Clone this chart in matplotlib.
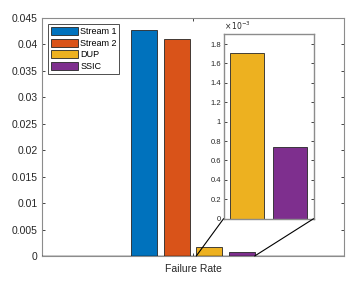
import matplotlib
matplotlib.use("Agg")
import matplotlib.pyplot as plt
from matplotlib.patches import ConnectionPatch
from matplotlib.ticker import FuncFormatter, MultipleLocator

plt.rcParams['font.family'] = ['Liberation Sans', 'DejaVu Sans']

# data
series = ['Stream 1', 'Stream 2', 'DUP', 'SSIC']
values = [0.0427, 0.0410, 0.00171, 0.000735]
colors = ['#0072BD', '#D95319', '#EDB120', '#7E2F8E']
category = 'Failure Rate'

zoom_series = ['DUP', 'SSIC']
zoom_values = [0.00171, 0.000735]
zoom_colors = ['#EDB120', '#7E2F8E']

frame = '#262626'

fig = plt.figure(figsize=(3.6, 2.85), dpi=100)
ax = fig.add_axes([0.1167, 0.1018, 0.839, 0.835])

spacing = 0.215
width = 0.172
for i, (name, v, c) in enumerate(zip(series, values, colors)):
    ax.bar(1 + (i - 1.5) * spacing, v, width, color=c, edgecolor=frame,
           linewidth=0.6, label=name, zorder=2)
ax.axhline(0, color='black', linewidth=1.0, zorder=3)

ax.set_xlim(0, 2)
ax.set_ylim(0, 0.045)
ax.set_xticks([1])
ax.set_xticklabels([category])
ax.yaxis.set_major_locator(MultipleLocator(0.005))
ax.yaxis.set_major_formatter(FuncFormatter(lambda v, p: '%g' % round(v, 4)))
ax.tick_params(direction='in', length=2.5, width=0.6, labelsize=7.5,
               colors=frame, top=True, right=True, pad=3)
ax.tick_params(axis='x', pad=6)
for s in ax.spines.values():
    s.set_color('0.55')
    s.set_linewidth(0.8)

leg = ax.legend(loc='upper left', bbox_to_anchor=(0.02, 0.975),
                borderaxespad=0, fontsize=6.5, fancybox=False, framealpha=1,
                edgecolor='0.3', handlelength=3.0, handleheight=1.0,
                labelspacing=0.3, handletextpad=0.25, borderpad=0.3)
leg.get_frame().set_linewidth(0.7)

# zoomed inset
ins = fig.add_axes([0.621, 0.2326, 0.25, 0.647])
for i, (v, c) in enumerate(zip(zoom_values, zoom_colors)):
    ins.bar(i + 1, v, 0.8, color=c, edgecolor=frame, linewidth=0.6, zorder=2)
ins.set_xlim(0.436, 2.564)
ins.set_ylim(0, 0.0019)
ins.set_xticks([])
ins.yaxis.set_major_locator(MultipleLocator(0.0002))
ins.yaxis.set_major_formatter(FuncFormatter(lambda v, p: '%g' % round(v * 1e3, 3)))
ins.tick_params(direction='in', length=2.5, width=0.6, labelsize=5.5,
                colors=frame, right=True, pad=2)
for s in ins.spines.values():
    s.set_color('0.55')
    s.set_linewidth(1.0)
ins.text(0.0, 1.01, r'$\times\,10^{-3}$', transform=ins.transAxes,
         fontsize=5.5, color=frame, ha='left', va='bottom')

# connector lines from the inset corners to the small bars
x_left = 1 + 0.5 * spacing - width / 2
x_right = 1 + 1.5 * spacing + width / 2
for xa, xb in [(0.0, x_left), (1.0, x_right)]:
    con = ConnectionPatch(xyA=(xa, 0), coordsA=ins.transAxes,
                          xyB=(xb, 0), coordsB=ax.transData,
                          color='black', linewidth=0.8)
    fig.add_artist(con)

fig.savefig('out.png', dpi=100)
